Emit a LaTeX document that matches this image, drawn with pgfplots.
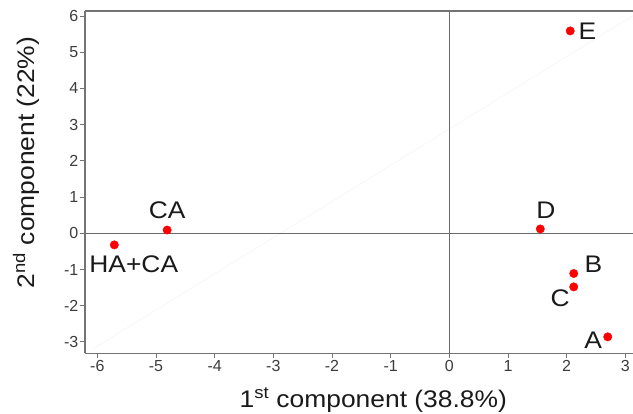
\documentclass[border=0pt]{standalone}
\usepackage{fontspec}
\setmainfont{Liberation Sans}
\newfontfamily\labfont[FakeStretch=1.1]{Liberation Sans}
\usepackage{pgfplots}
\pgfplotsset{compat=1.18}
\usepackage{pgfplotstable}
\definecolor{axgray}{HTML}{747474}
\definecolor{zgray}{HTML}{6A6A6A}
\definecolor{tickgray}{HTML}{3C3C3C}
\definecolor{txt}{HTML}{1A1A1A}
\definecolor{dotred}{HTML}{FF0000}

\pgfplotstableread{
x y label dx dy
2.06 5.59 E 17.3 -8.3
-4.81 0.09 CA 0 12
-5.71 -0.32 HA+CA 19.4 -27.7
1.55 0.12 D 5.5 10.7
2.12 -1.11 B 19.8 1
2.12 -1.48 C -13.5 -19.3
2.70 -2.86 A -14.5 -11.6
}\pts

\begin{document}
\begin{tikzpicture}
\begin{axis}[
  at={(85pt,60.5pt)}, anchor=south west,
  scale only axis, width=548pt, height=342.5pt,
  xmin=-6.21, xmax=3.13, ymin=-3.32, ymax=6.14,
  axis x line=box, axis y line=left,
  axis line style={-, axgray, line width=1.3pt},
  xtick={-6,-5,...,3}, ytick={-3,-2,...,6},
  xtick pos=bottom, ytick pos=left,
  tick align=outside, major tick length=5pt,
  tick style={axgray, line width=0.9pt},
  /pgf/number format/assume math mode=true,
  ticklabel style={font=\fontsize{16}{16}\selectfont, text=tickgray},
  yticklabel style={inner sep=1.5pt},
  xticklabel style={inner sep=2pt},
  xlabel={1\textsuperscript{st} component (38.8\%)},
  ylabel={2\textsuperscript{nd} component (22\%)},
  label style={font=\labfont\fontsize{24}{24}\selectfont, text=txt},
  xlabel style={at={(axis description cs:0.526,-0.159)}, anchor=base},
  ylabel style={at={(axis description cs:-0.1077,0.5577)}, anchor=center},
  clip=false,
]
\addplot[black!4, line width=0.6pt, forget plot] coordinates {(-6.07,-3.19) (3.13,6.01)};
\addplot[zgray, line width=1.1pt, forget plot] coordinates {(0,-3.32) (0,6.14)};
\addplot[zgray, line width=1.1pt, forget plot] coordinates {(-6.21,0) (3.13,0)};
\addplot[only marks, mark=*, mark size=4.2pt, color=dotred,
  mark options={draw=dotred, fill=dotred},
  point meta=explicit symbolic,
  nodes near coords,
  visualization depends on={\thisrow{dx}\as\dx},
  visualization depends on={\thisrow{dy}\as\dy},
  nodes near coords style={anchor=base, xshift=\dx, yshift=\dy,
    inner sep=0pt, font=\labfont\fontsize{24}{24}\selectfont, text=txt}]
  table[x=x, y=y, meta=label]{\pts};
\end{axis}
\pgfresetboundingbox
\path[use as bounding box] (0,0) rectangle (633pt,414pt);
\end{tikzpicture}
\end{document}
